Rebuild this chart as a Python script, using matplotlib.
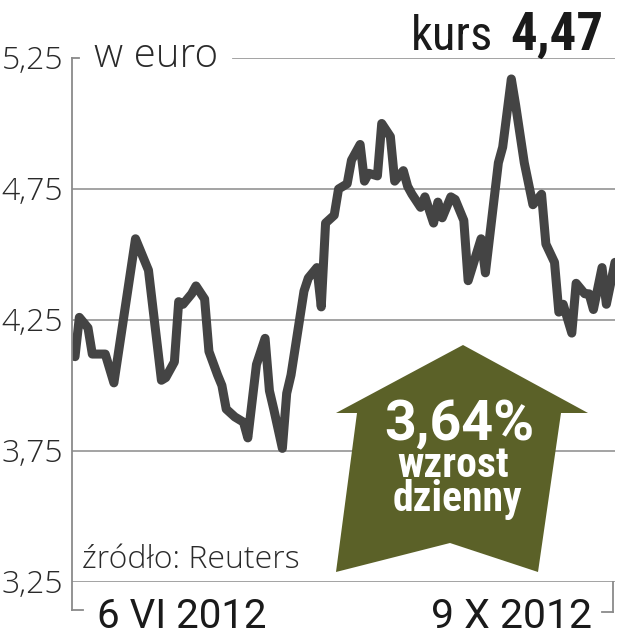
import matplotlib
matplotlib.use("Agg")
import matplotlib.pyplot as plt
from matplotlib.lines import Line2D
from matplotlib.patches import Polygon

# kurs w euro, dni od 6 VI 2012
days = [0, 1, 3, 4, 7, 9, 11, 14, 15, 17, 20, 21, 23, 24, 25, 27, 28, 30, 31,
        33, 34, 35, 37, 39, 40, 42, 44, 45, 46, 48, 49, 50, 53, 54, 56, 57, 58,
        60, 61, 63, 64, 66, 67, 68, 70, 71, 73, 74, 76, 77, 78, 80, 81, 83, 84,
        85, 87, 88, 90, 91, 94, 95, 98, 99, 101, 102, 104, 106, 108, 109, 111,
        112, 113, 115, 116, 118, 119, 120, 122, 123, 125]
kurs = [4.11, 4.26, 4.22, 4.12, 4.12, 4.01, 4.23, 4.56, 4.52, 4.44, 4.02, 4.03,
        4.09, 4.32, 4.31, 4.35, 4.38, 4.33, 4.13, 4.04, 4.00, 3.91, 3.88, 3.86,
        3.80, 4.08, 4.18, 3.98, 3.91, 3.76, 3.97, 4.04, 4.36, 4.41, 4.45, 4.30,
        4.62, 4.65, 4.75, 4.77, 4.86, 4.92, 4.78, 4.81, 4.80, 5.00, 4.95, 4.78,
        4.82, 4.76, 4.73, 4.68, 4.72, 4.62, 4.70, 4.64, 4.72, 4.71, 4.63, 4.40,
        4.56, 4.43, 4.85, 4.91, 5.17, 5.07, 4.85, 4.69, 4.73, 4.54, 4.47, 4.28,
        4.31, 4.20, 4.39, 4.35, 4.35, 4.29, 4.45, 4.31, 4.47]
yticks = [3.25, 3.75, 4.25, 4.75, 5.25]
ytick_labels = ["3,25", "3,75", "4,25", "4,75", "5,25"]
date_labels = ["6 VI 2012", "9 X 2012"]
last_value = "4,47"
change = "3,64%"

W, H = 619, 640
fig = plt.figure(figsize=(W / 100, H / 100), dpi=100)

def px(x, y):
    # piksele obrazka -> ułamki figury
    return x / W, 1 - y / H

light = dict(family=["Open Sans", "DejaVu Sans"], weight="light", color="#2a2a2a")
cond = ["Roboto Condensed", "DejaVu Sans"]

ax = fig.add_axes([72 / W, 58 / H, 543 / W, 524 / H])
ax.set_xlim(-0.7, 125)
ax.set_ylim(3.25, 5.25)
ax.axis("off")

grid_c = "#9c9c9c"
for v in yticks[:-1]:
    ax.axhline(v, color=grid_c, lw=1.3, zorder=1)
ax.axhline(yticks[-1], xmin=(233 - 72) / 543, color=grid_c, lw=1.3, zorder=1)

ax.plot(days, kurs, color="#444444", lw=6.5, solid_joinstyle="round",
        solid_capstyle="round", zorder=3)

# oś i nawiasy
for xs, ys in [([72, 72], [58, 610]), ([72, 79], [58, 58]), ([72, 83], [610, 610]),
               ([613, 613], [582, 612]), ([613, 602], [612, 612])]:
    fig.add_artist(Line2D([x / W for x in xs], [1 - y / H for y in ys],
                          color="#8a8a8a", lw=1.3))

for v, lab in zip(yticks, ytick_labels):
    fig.text(63 / W, 1 - (319 - (v - 4.25) * 262) / H, lab, ha="right",
             va="center_baseline", fontsize=23, **light)

fig.text(*px(94, 67), "w euro", ha="left", va="baseline", fontsize=29, **light)
fig.text(*px(82, 568), "źródło: Reuters", ha="left", va="baseline", fontsize=23,
         **light)

fig.text(*px(97, 628), date_labels[0], ha="left", va="baseline", fontsize=29,
         color="#1a1a1a", family=["Roboto", "DejaVu Sans"])
fig.text(*px(592, 628), date_labels[1], ha="right", va="baseline", fontsize=29.5,
         color="#1a1a1a", family=["Roboto", "DejaVu Sans"])

fig.text(*px(493, 50), "kurs", ha="right", va="baseline", fontsize=35,
         color="#1a1a1a", family=cond)
fig.text(*px(603, 50), last_value, ha="right", va="baseline", fontsize=38,
         color="#1a1a1a", weight="bold", family=cond)

arrow = [(463, 345), (588, 413), (561, 413), (538, 572), (450, 543),
         (336, 572), (357, 413), (336, 413)]
fig.add_artist(Polygon([px(x, y) for x, y in arrow], closed=True,
                       facecolor="#5b6128", edgecolor="none", zorder=4))
bold = dict(color="white", weight="bold", ha="center", va="baseline", zorder=5)
fig.text(*px(459, 440), change, fontsize=40, family=["Roboto", "DejaVu Sans"], **bold)
fig.text(*px(453, 477), "wzrost", fontsize=30, family=cond, **bold)
fig.text(*px(457, 511), "dzienny", fontsize=30, family=cond, **bold)

fig.savefig("out.png", dpi=100)
